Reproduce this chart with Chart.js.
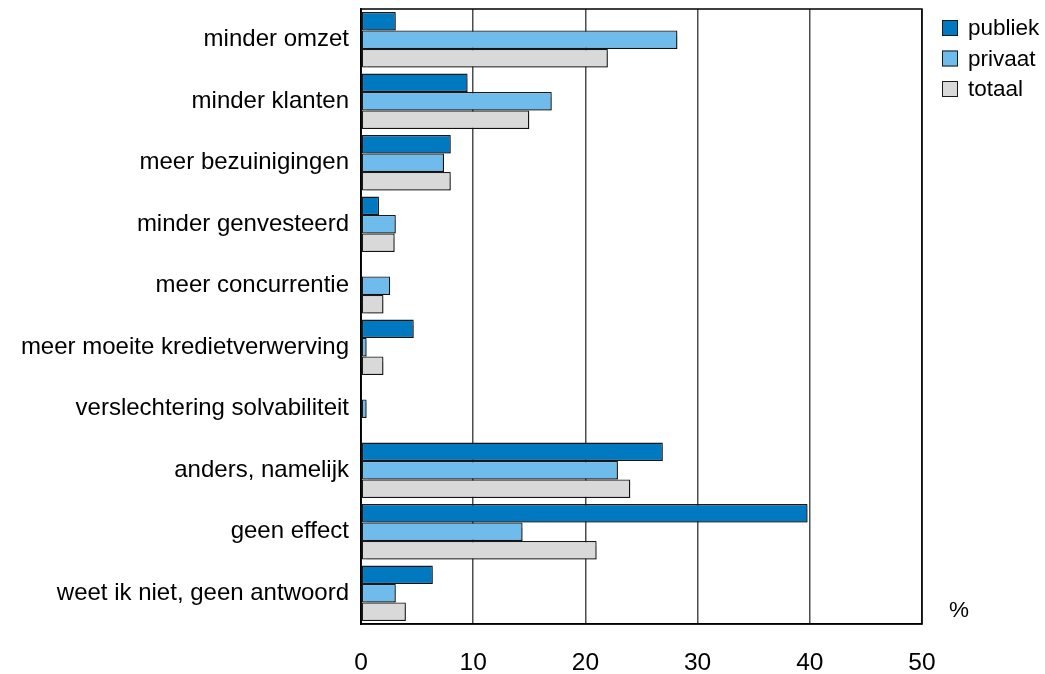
<!DOCTYPE html>
<html>
<head>
<meta charset="utf-8">
<title>Effect crisis</title>
<script src="https://cdn.jsdelivr.net/npm/chart.js@4.4.1/dist/chart.umd.min.js"></script>
<style>
    html, body { margin: 0; padding: 0; background: #fff; }
    #wrap { width: 1045px; height: 674px; }
</style>
</head>
<body>
<div id="wrap"><canvas id="chart" width="1045" height="674"></canvas></div>
<script>
// ── Data ────────────────────────────────────────────────────────────────────
const categories = [
    'minder omzet',
    'minder klanten',
    'meer bezuinigingen',
    'minder genvesteerd',
    'meer concurrentie',
    'meer moeite kredietverwerving',
    'verslechtering solvabiliteit',
    'anders, namelijk',
    'geen effect',
    'weet ik niet, geen antwoord'
];
const publiek = [3.1, 9.5, 8.0, 1.6, null, 4.7, null, 26.9, 39.8, 6.4];
const privaat = [28.2, 17.0, 7.4, 3.1, 2.6, 0.5, 0.5, 22.9, 14.4, 3.1];
const totaal  = [22.0, 15.0, 8.0, 3.0, 2.0, 2.0, null, 24.0, 21.0, 4.0];
const xTicks  = [0, 10, 20, 30, 40, 50];
const unitLabel = '%';

// ── Colours ─────────────────────────────────────────────────────────────────
const colors = {
    publiek: '#0079c1',
    privaat: '#6fbcec',
    totaal:  '#d9d9d9',
    edge:    '#1a1a1a',
    grid:    '#4d4d4d',
    text:    '#000000'
};
const FONT = "'Liberation Sans', Arial, sans-serif";

// frame round the plot, bar shadows, legend on the right and the unit sign
const framePlugin = {
    id: 'frame',
    beforeDatasetsDraw(chart) {
        const { ctx, chartArea: a } = chart;
        ctx.save();
        ctx.strokeStyle = '#000';
        ctx.lineWidth = 1.5;
        ctx.strokeRect(a.left, a.top, a.right - a.left, a.bottom - a.top);
        ctx.restore();
    },
    beforeDatasetDraw(chart) {
        const ctx = chart.ctx;
        ctx.save();
        ctx.shadowColor = 'rgba(0, 0, 0, 0.28)';
        ctx.shadowOffsetX = 2;
        ctx.shadowOffsetY = 2;
        ctx.shadowBlur = 1;
    },
    afterDatasetDraw(chart) {
        chart.ctx.restore();
    },
    afterDraw(chart) {
        const { ctx, chartArea: a } = chart;
        ctx.save();
        ctx.font = '22.5px ' + FONT;
        ctx.textBaseline = 'middle';
        ctx.fillStyle = colors.text;
        chart.data.datasets.forEach((ds, i) => {
            const y = 28 + i * 30.5;
            ctx.fillStyle = ds.backgroundColor;
            ctx.fillRect(a.right + 20, y - 8, 16, 16);
            ctx.strokeStyle = colors.edge;
            ctx.lineWidth = 1;
            ctx.strokeRect(a.right + 20.5, y - 7.5, 15, 15);
            ctx.fillStyle = colors.text;
            ctx.textAlign = 'left';
            ctx.fillText(ds.label, a.right + 46, y + 1);
        });
        ctx.textAlign = 'center';
        ctx.fillText(unitLabel, a.right + 37, a.bottom - 13);
        ctx.restore();
    }
};

function barSet(label, data, color) {
    return {
        label: label,
        data: data,
        backgroundColor: color,
        borderColor: colors.edge,
        borderWidth: 1.3,
        borderSkipped: false,
        categoryPercentage: 0.9,
        barPercentage: 1.0
    };
}

new Chart(document.getElementById('chart'), {
    type: 'bar',
    data: {
        labels: categories,
        datasets: [
            barSet('publiek', publiek, colors.publiek),
            barSet('privaat', privaat, colors.privaat),
            barSet('totaal', totaal, colors.totaal)
        ]
    },
    options: {
        indexAxis: 'y',
        responsive: false,
        animation: false,
        layout: { padding: { top: 9, right: 123, left: 0, bottom: 0 } },
        plugins: {
            legend: { display: false },
            tooltip: { enabled: false }
        },
        scales: {
            x: {
                min: 0,
                max: 50,
                afterBuildTicks(scale) { scale.ticks = xTicks.map(v => ({ value: v })); },
                afterFit(scale) {
                    scale.height = 50;
                    scale.paddingLeft = 0;
                    scale.paddingRight = 0;
                },
                grid: {
                    color: ctx => (ctx.tick && ctx.tick.value === 0) ? '#000' : colors.grid,
                    lineWidth: 1.5,
                    drawTicks: false
                },
                border: { display: true, color: '#000', width: 1.5 },
                ticks: {
                    padding: 25,
                    color: colors.text,
                    font: { family: FONT, size: 24.5 }
                }
            },
            y: {
                afterFit(scale) {
                    scale.width = 361;
                    scale.paddingTop = 0;
                    scale.paddingBottom = 0;
                },
                grid: { display: false, drawTicks: false },
                border: { display: true, color: '#000', width: 1.5 },
                ticks: {
                    padding: 12,
                    autoSkip: false,
                    color: colors.text,
                    font: { family: FONT, size: 24 }
                }
            }
        }
    },
    plugins: [framePlugin]
});
</script>
</body>
</html>
